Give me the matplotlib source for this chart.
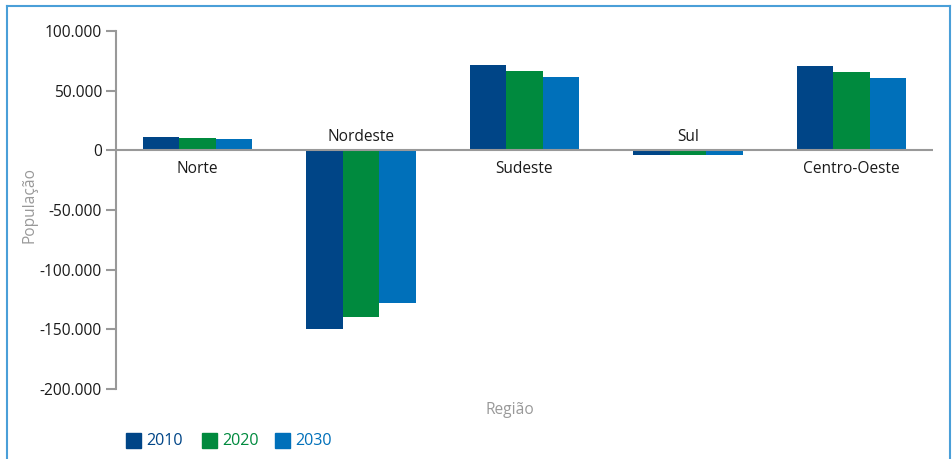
import matplotlib
matplotlib.use("Agg")
import matplotlib.pyplot as plt
from matplotlib.patches import Rectangle
from matplotlib.lines import Line2D
import numpy as np

plt.rcParams['font.family'] = ['Open Sans', 'DejaVu Sans']

regions = ["Norte", "Nordeste", "Sudeste", "Sul", "Centro-Oeste"]
years = ["2010", "2020", "2030"]
v2010 = [11000, -150000, 71200, -3800, 70300]
v2020 = [10000, -140000, 66200, -3800, 65300]
v2030 = [9200, -128000, 61100, -3800, 61000]
series = [v2010, v2020, v2030]
colors = ["#004587", "#008a3e", "#0070ba"]
yticks = [100000, 50000, 0, -50000, -100000, -150000, -200000]
ytick_labels = ["100.000", "50.000", "0", "-50.000", "-100.000", "-150.000", "-200.000"]

W, H = 953, 459
fig = plt.figure(figsize=(W/100, H/100), dpi=100)
ax = fig.add_axes([116/W, 1-389/H, (933-116)/W, (389-31)/H])

x = np.arange(len(regions))
bw = 0.223
for i, (vals, c) in enumerate(zip(series, colors)):
    ax.bar(x + (i-1)*bw, vals, width=bw, color=c, label=years[i], zorder=2)

fs = 11.2
ax.set_xlim(-0.5, len(regions)-0.5)
ax.set_ylim(-200000, 100000)
ax.set_yticks(yticks)
ax.set_yticklabels(ytick_labels, fontsize=fs, color="#1a1a1a")
ax.tick_params(axis='y', length=7, width=1.5, color="#999999", pad=3)
ax.set_xticks([])
for s in ["top", "right", "bottom"]:
    ax.spines[s].set_visible(False)
ax.spines["left"].set_color("#999999")
ax.spines["left"].set_linewidth(1.5)
ax.axhline(0, color="#999999", lw=1.5, zorder=3)

# category labels near zero line
for xi, r, vals in zip(x, regions, v2010):
    if vals >= 0:
        ax.annotate(r, (xi, 0), xytext=(0, -8), textcoords="offset points",
                    ha="center", va="top", fontsize=fs, color="#1a1a1a")
    else:
        ax.annotate(r, (xi, 0), xytext=(0, 4), textcoords="offset points",
                    ha="center", va="bottom", fontsize=fs, color="#1a1a1a")

fig.text(30/W, 1-205/H, "População", rotation=90, ha="center", va="center",
         fontsize=fs, color="#999999")
fig.text(510/W, 1-410/H, "Região", ha="center", va="center",
         fontsize=fs, color="#999999")

# legend
lx = [126, 202, 275]
for xx, lab, c in zip(lx, years, colors):
    fig.patches.append(Rectangle((xx/W, 1-448/H), 15/W, 15/H, transform=fig.transFigure,
                                 color=c, figure=fig))
    fig.text((xx+20)/W, 1-441/H, lab, ha="left", va="center", fontsize=11.6, color=c)

# border
bc = "#4a9fd8"
fig.add_artist(Line2D([7/W, 7/W], [0, 1-6/H], transform=fig.transFigure, color=bc, lw=1.5))
fig.add_artist(Line2D([7/W, 950/W], [1-6/H, 1-6/H], transform=fig.transFigure, color=bc, lw=1.5))
fig.add_artist(Line2D([950/W, 950/W], [0, 1-6/H], transform=fig.transFigure, color=bc, lw=1.5))

fig.savefig("out.png", dpi=100)
